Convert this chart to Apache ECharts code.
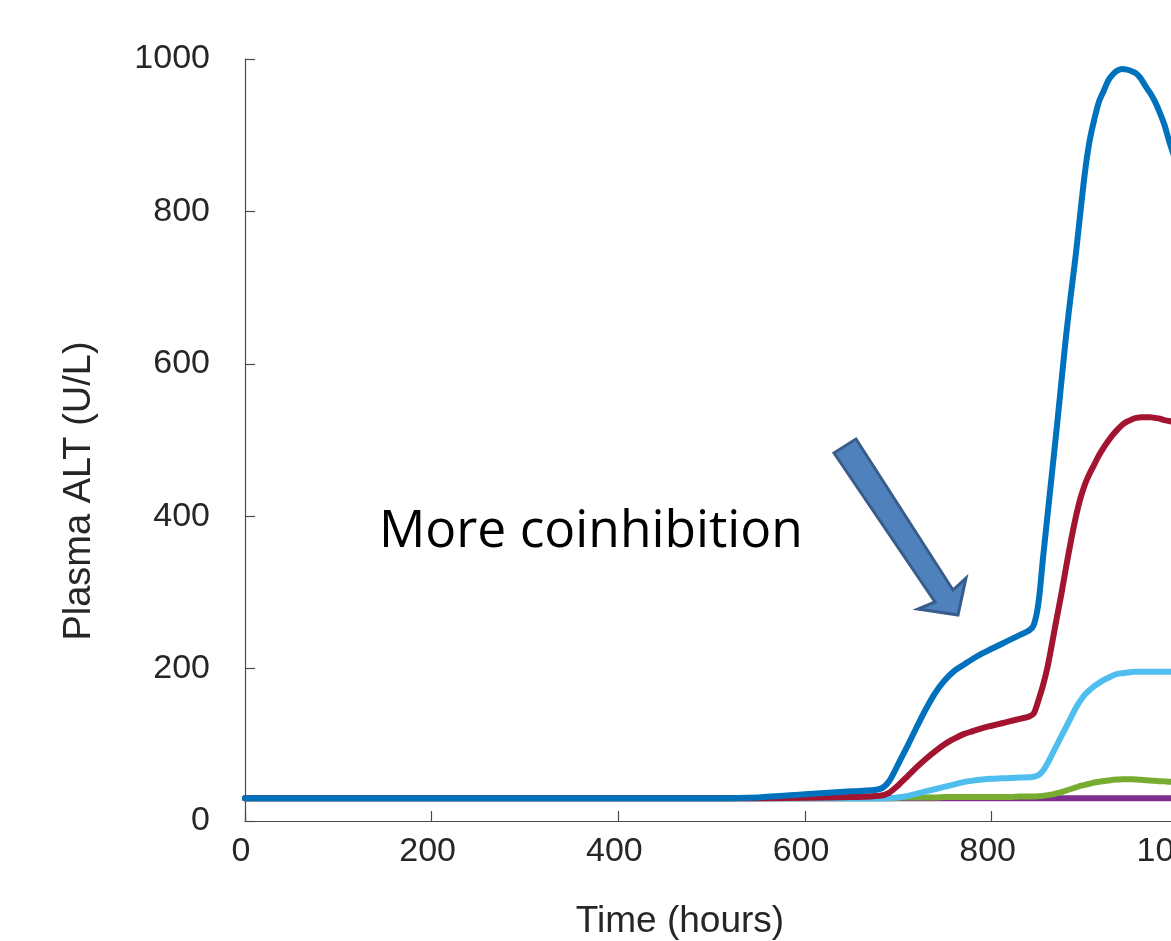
<!DOCTYPE html>
<html>
<head>
<meta charset="utf-8">
<script src="https://cdn.jsdelivr.net/npm/echarts@6/dist/echarts.min.js"></script>
<style>
  html, body { margin: 0; padding: 0; background: #ffffff; }
  #chart { width: 1171px; height: 941px; }
</style>
</head>
<body>
<div id="chart"></div>
<script>
// ---- data ----
const times = [0,100,200,300,400,500,550,600,650,680,690,
  700,710,720,730,740,750,760,770,780,790,
  800,810,820,830,840,845,
  850,855,860,865,870,875,880,885,890,895,
  900,905,910,915,920,925,930,935,940,945,
  950,955,960,965,970,975,980,985,990,
  1000,1010];

const altDarkBlue = [30,30,30,30,30,30,31,35,39,42,52,
  75,99,124,148,169,185,197,205,213,220,
  226,232,238,244,250,257,
  285,345,403,461,519,580,640,692,742,798,
  852,893,921,944,958,972,980,985,987,986,
  984,981,974,964,955,944,930,914,893,
  855,815];

const altRed = [30,30,30,30,30,30,30,30.5,31.5,33,37,
  47,59,71,82,92,101,108,114,118,122,
  125,128,131,134,137,141,
  158,178,203,235,268,300,335,368,398,423,
  442,456,468,480,490,499,507,514,520,524,
  527,529,530,530,530,529,528,526,525,
  522,518];

const altLightBlue = [30,30,30,30,30,30,30,30,30,30,30,
  31,33,36,39,42,45,48,51,53,54.5,
  55.5,56,56.5,57,57.5,58,
  60,66,76,88,100,112,124,136,148,158,
  166,172,177,181,185,188,191,193,194,195,
  195.5,196,196,196,196,196,196,196,196,
  196,196];

const altGreen = [30,30,30,30,30,30,30,30,30,30,30,
  30.5,31,31,31,31,31.5,31.5,31.5,31.5,31.5,
  31.5,31.5,31.5,32,32,32,
  32.5,33,34,35,36.5,38,40,42,44,46,
  47.5,49,50.5,51.5,52.5,53.2,54,54.4,54.7,54.7,
  54.7,54.5,54,53.5,53,52.7,52.3,52,51.6,
  51,50.5];

const altPurple = [30,30,30,30,30,30,30,30,30,30,30,
  30,30,30,30,30,30,30,30,30,30,
  30,30,30,30,30,30,
  30,30,30,30,30,30,30,30,30,30,
  30,30,30,30,30,30,30,30,30,30,
  30,30,30,30,30,30,30,30,30,
  30,30];

const xTicks = [0, 200, 400, 600, 800, 1000, 1200];
const yTicks = [0, 200, 400, 600, 800, 1000];

const xTitle = 'Time (hours)';
const yTitle = 'Plasma ALT (U/L)';
const annotation = 'More coinhibition';

// ---- chart ----
function pairs(vals) { return times.map((t, i) => [t, vals[i]]); }

const axisColor = '#4a4a4a';
const textColor = '#262626';

function lineSeries(name, vals, color) {
  return {
    name: name, type: 'line', data: pairs(vals),
    showSymbol: false, symbol: 'none',
    smooth: 0.3,
    lineStyle: { color: color, width: 6, cap: 'round', join: 'round' },
    itemStyle: { color: color },
    clip: true
  };
}

const chart = echarts.init(document.getElementById('chart'), null, { renderer: 'canvas' });
chart.setOption({
  animation: false,
  backgroundColor: '#ffffff',
  grid: { left: 245, top: 59, width: 1120, height: 762, containLabel: false, outerBoundsMode: 'none' },
  xAxis: {
    type: 'value', min: xTicks[0], max: xTicks[xTicks.length - 1], interval: 200,
    axisLine: { show: true, lineStyle: { color: axisColor, width: 1.2 } },
    axisTick: { show: true, inside: true, length: 10, lineStyle: { color: axisColor, width: 1.2 } },
    splitLine: { show: false },
    axisLabel: {
      color: textColor, fontFamily: '"Liberation Sans", Arial, sans-serif', fontSize: 34,
      margin: 14, padding: [0, 8, 0, 0], formatter: v => String(v)
    }
  },
  yAxis: {
    type: 'value', min: yTicks[0], max: yTicks[yTicks.length - 1], interval: 200,
    axisLine: { show: true, lineStyle: { color: axisColor, width: 1.2 } },
    axisTick: { show: true, inside: true, length: 10, lineStyle: { color: axisColor, width: 1.2 } },
    splitLine: { show: false },
    axisLabel: {
      color: textColor, fontFamily: '"Liberation Sans", Arial, sans-serif', fontSize: 34,
      margin: 35, padding: [0, 0, 20, 0], formatter: v => String(v)
    }
  },
  series: [
    lineSeries('Purple', altPurple, '#7E2F8E'),
    lineSeries('Green', altGreen, '#77AC30'),
    lineSeries('Light blue', altLightBlue, '#4DBEEE'),
    lineSeries('Red', altRed, '#A2142F'),
    lineSeries('Blue', altDarkBlue, '#0072BD')
  ],
  graphic: [
    {
      type: 'text', x: 680, y: 922,
      style: { text: xTitle, fill: textColor, font: '37px "Liberation Sans", Arial, sans-serif',
               align: 'center', verticalAlign: 'middle' }
    },
    {
      type: 'text', x: 80, y: 491, rotation: Math.PI / 2,
      style: { text: yTitle, fill: textColor, font: '38px "Liberation Sans", Arial, sans-serif',
               align: 'center', verticalAlign: 'middle' }
    },
    {
      type: 'text', x: 379, y: 532,
      style: { text: annotation, fill: '#000000', font: '51.5px "Open Sans", sans-serif',
               align: 'left', verticalAlign: 'middle' }
    },
    {
      type: 'polygon', z: 100,
      shape: { points: [[834, 453], [856, 439], [953, 590], [966, 578], [958, 615], [918, 609], [935, 602]] },
      style: { fill: '#4F81BD', stroke: '#385D8A', lineWidth: 3, lineJoin: 'miter' }
    }
  ]
});
</script>
</body>
</html>
